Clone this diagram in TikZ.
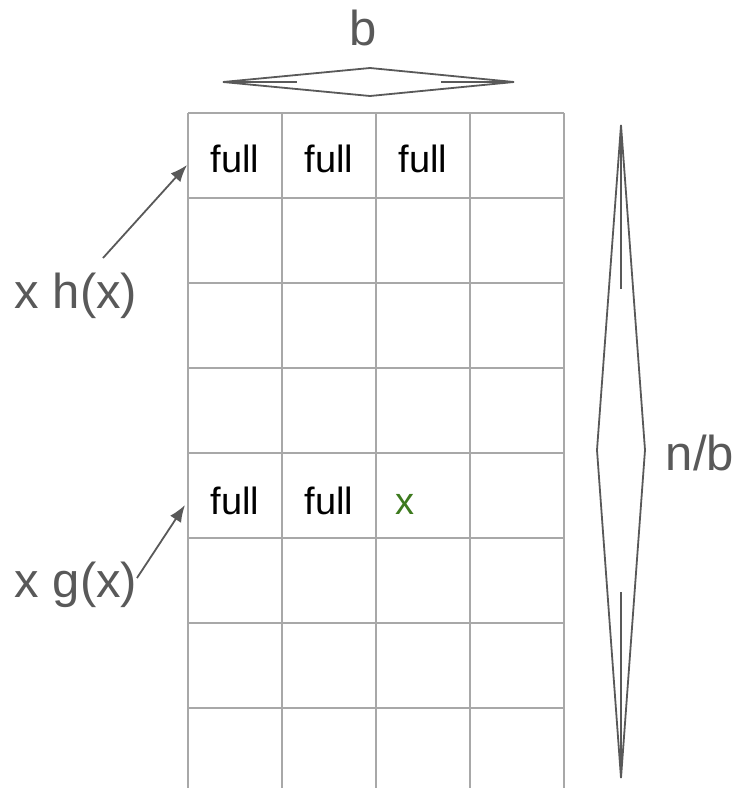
\documentclass[tikz,border=0pt]{standalone}
\usepackage{fontspec}
\setmainfont{Liberation Sans}
\usepackage{xcolor}
\usetikzlibrary{arrows.meta,positioning}
\definecolor{gridgray}{HTML}{A8A8A8}
\definecolor{inkgray}{HTML}{595959}
\definecolor{xgreen}{HTML}{3D7A1E}

\begin{document}
\begin{tikzpicture}[
  x=1pt, y=-1pt,
  >={Latex[length=17pt,width=13pt]},
  cellline/.style={draw=gridgray, line width=2pt},
  cell/.style={font=\fontsize{38}{38}\selectfont, anchor=base, inner sep=0pt},
  lbl/.style={text=inkgray, font=\fontsize{49}{49}\selectfont, anchor=base, inner sep=0pt},
  span/.style={draw=inkgray, line width=1.8pt, line join=miter},
  pointer/.style={->, draw=inkgray, line width=1.8pt}
]
\useasboundingbox (0,0) rectangle (734,788);

% table of buckets
\foreach \c in {188,282,376,470,564} \draw[cellline] (\c,113) -- (\c,788);
\foreach \r in {113,198,283,368,453,538,623,708} \draw[cellline] (188,\r) -- (564,\r);

\node[cell] (full11) at (235,172) {full};
\node[cell] (full12) at (329,172) {full};
\node[cell] (full13) at (423,172) {full};
\node[cell] (full51) at (235,514) {full};
\node[cell] (full52) at (329,514) {full};
\node[cell, text=xgreen] (x53) at (405,514) {x};

% sizes
\node[lbl] (b) at (363,45) {b};
\node[lbl] (nb) at (700,470) {n/b};
\draw[span] (223,82) -- (370,68) -- (514,82) -- (370,96) -- cycle;
\draw[span] (223,82) -- (297,82) (441,82) -- (514,82);
\draw[span] (621,125) -- (645,450) -- (621,778) -- (597,450) -- cycle;
\draw[span] (621,125) -- (621,289) (621,592) -- (621,778);

% hashes
\node[lbl] (hx) at (76,308) {x h(x)};
\node[lbl] (gx) at (76,597) {x g(x)};
\coordinate (hx from) at (103,258);
\coordinate (hx to) at (187,165);
\coordinate (gx from) at (137,578);
\coordinate (gx to) at (185,505);
\draw[pointer] (hx from) -- (hx to);
\draw[pointer] (gx from) -- (gx to);
\end{tikzpicture}
\end{document}
